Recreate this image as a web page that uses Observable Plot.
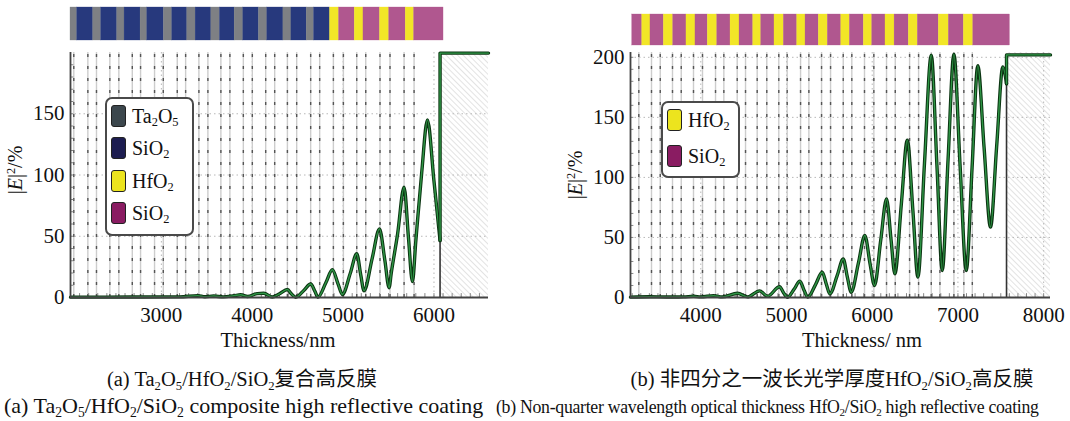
<!DOCTYPE html>
<html><head><meta charset="utf-8">
<script src="https://cdn.jsdelivr.net/npm/d3@7"></script>
<script src="https://cdn.jsdelivr.net/npm/@observablehq/plot@0.6"></script>
<style>
body{margin:0;background:#fff;}
#root{position:relative;width:1070px;height:421px;overflow:hidden;font-family:"Liberation Serif","Noto Sans CJK SC",serif;color:#111;}
.ctr{transform:translate(-50%,-50%);white-space:nowrap;}
sub{font-size:0.62em;vertical-align:-0.28em;line-height:0;}
sup{font-size:0.62em;vertical-align:0.55em;line-height:0;}
.legend{position:absolute;background:#fff;border:2px solid #4a4a4a;border-radius:7px;box-sizing:border-box;font-size:20px;font-family:"Liberation Serif",serif;}
.item{position:absolute;left:4px;display:flex;align-items:center;height:24px;}
.sw{width:15px;height:22px;border:1.5px solid #222;border-radius:3px;margin-right:6px;box-sizing:border-box;}
.ylab{font-size:20px;font-family:"Liberation Serif",serif;transform:translate(-50%,-50%) rotate(-90deg);white-space:nowrap;}
.cap{font-size:20.5px;white-space:nowrap;font-family:"Liberation Serif","Noto Sans CJK SC",serif;}
svg text{font-family:"Liberation Serif",serif;}
</style></head><body>
<svg width="0" height="0" style="position:absolute">
<defs>
<pattern id="hatch" patternUnits="userSpaceOnUse" width="4" height="4" patternTransform="rotate(-45)">
<line x1="0" y1="0" x2="0" y2="4" stroke="#c8c8c8" stroke-width="1"/>
</pattern>
</defs></svg>
<div id="root"></div>
<script>
// ---------- Panel (a): Ta2O5/HfO2/SiO2 composite ----------
const aXDomain = [2000, 6600];
const aYDomain = [0, 200];
const aXTicks = [3000, 4000, 5000, 6000];
const aYTicks = [0, 50, 100, 150];
const aThick = [2000, 2400, 2800, 3200, 3400, 3480, 3577, 3680, 3800, 3872, 3950, 4055, 4127, 4220, 4300, 4387, 4430, 4478, 4570, 4643, 4690, 4724, 4810, 4882, 4945, 4992, 5080, 5150, 5195, 5230, 5320, 5400, 5460, 5506, 5530, 5600, 5671, 5720, 5763, 5800, 5865, 5928, 6000, 6067];
const aField = [0.3, 0.3, 0.4, 0.5, 1.5, 0.6, 1.2, 0.5, 1.5, 2.2, 0.8, 3.2, 3.5, 0.4, 3, 6.5, 3, 0.2, 6, 11, 5, 0.3, 12, 22.6, 11, 2.5, 20, 35.7, 18, 5.5, 32, 56, 30, 8, 20, 52, 90, 48, 13, 46, 102, 145, 95, 46.5];
const aSurface = 6067;
const aOutside = 199.5;
const aLayerEdges = [2036, 2191, 2286, 2433, 2532, 2680, 2771, 2925, 3021, 3175, 3267, 3413, 3512, 3655, 3754, 3902, 4001, 4148, 4247, 4387, 4489, 4643, 4742, 4893, 5003, 5150, 5249, 5406, 5516, 5671, 5781];
const aStripEdges = [2000, 2074, 2250, 2338, 2514, 2595, 2771, 2845, 3028, 3120, 3285, 3377, 3550, 3644, 3806, 3902, 4074, 4166, 4343, 4431, 4599, 4680, 4856, 4955, 5128, 5224, 5406, 5507, 5689, 5781, 6105];
const aStripLayers = ["T","L","T","L","T","L","T","L","T","L","T","L","T","L","T","L","T","L","T","L","T","L","H","S","H","S","H","S","H","S"];

// ---------- Panel (b): non-quarter HfO2/SiO2 ----------
const bXDomain = [3180, 8080];
const bYDomain = [0, 204];
const bXTicks = [4000, 5000, 6000, 7000, 8000];
const bYTicks = [0, 50, 100, 150, 200];
const bThick = [3180, 3400, 3600, 3800, 3915, 4000, 4149, 4250, 4429, 4545, 4686, 4779, 4919, 4965, 5012, 5090, 5156, 5205, 5249, 5340, 5417, 5465, 5506, 5590, 5662, 5710, 5755, 5840, 5914, 5975, 6027, 6100, 6167, 6220, 6264, 6340, 6409, 6475, 6533, 6610, 6689, 6755, 6817, 6885, 6953, 7025, 7097, 7165, 7232, 7305, 7380, 7452, 7524, 7567];
const bField = [0.3, 0.6, 0.4, 0.5, 1, 0.5, 1.5, 0.5, 3.6, 0.5, 5.5, 1, 9, 4, 0.2, 7, 13.6, 6, 0.3, 11, 21, 11, 3, 18, 32, 17, 4.4, 29, 51.7, 28, 10, 48, 82, 48, 19.7, 78, 131, 72, 17, 112, 201.7, 110, 22.5, 115, 202.5, 110, 22.5, 108, 193, 125, 58.6, 126, 192, 178];
const bSurface = 7567;
const bOutside = 202;
const bLayerEdges = [3277, 3425, 3527, 3670, 3772, 3915, 4020, 4172, 4269, 4425, 4522, 4658, 4770, 4910, 5008, 5164, 5261, 5409, 5514, 5662, 5762, 5910, 6019, 6167, 6269, 6436, 6541, 6689, 6790, 6953, 7069, 7168];
const bStripEdges = [3200, 3317, 3413, 3569, 3678, 3833, 3938, 4082, 4192, 4347, 4452, 4612, 4705, 4860, 4969, 5125, 5222, 5377, 5482, 5639, 5739, 5902, 6000, 6155, 6261, 6427, 6532, 6777, 6894, 7069, 7179, 7606];
const bStripLayers = ["S","H","S","H","S","H","S","H","S","H","S","H","S","H","S","H","S","H","S","H","S","H","S","H","S","H","S","H","S","H","S"];

// ---------- materials ----------
const materialKeys = ["T", "L", "H", "S"];
const stripColors = ["#7e8084", "#27397d", "#f2e627", "#b0578f"];

const root = document.getElementById("root");
const serif = "Liberation Serif";

function place(node, left, top) {
  node.style.position = "absolute";
  node.style.left = left + "px";
  node.style.top = top + "px";
  root.appendChild(node);
}

function strip(xDomain, width, mL, mR, mT, mB, edges, layers) {
  const data = layers.map((m, i) => ({x1: edges[i], x2: edges[i + 1], m}));
  return Plot.plot({
    width, height: 50, marginLeft: mL, marginRight: mR, marginTop: mT, marginBottom: mB,
    style: {background: "transparent"},
    x: {domain: xDomain, axis: null},
    y: {domain: [0, 1], axis: null},
    color: {domain: materialKeys, range: stripColors},
    marks: [
      Plot.rect(data, {x1: "x1", x2: "x2", y1: 0, y2: 1, fill: "m", stroke: "m", strokeWidth: 0.3})
    ]
  });
}

function chart(o) {
  const curve = o.thick.map((x, i) => ({x, y: o.field[i]}));
  const last = o.field[o.field.length - 1];
  const step = [{x: o.surface, y: last}, {x: o.surface, y: o.outside}, {x: o.xDomain[1], y: o.outside}];
  const minor = d3.range(Math.ceil(o.xDomain[0] / 100) * 100, o.xDomain[1], 100);
  const minorY = d3.range(0, o.yDomain[1], 10);
  const ink = "#434343";
  return Plot.plot({
    width: o.width, height: 345,
    marginLeft: o.mL, marginRight: o.mR, marginTop: 52, marginBottom: 48,
    style: {background: "transparent", fontFamily: serif, fontSize: "21px", color: "#111"},
    x: {domain: o.xDomain},
    y: {domain: o.yDomain},
    marks: [
      Plot.rect([0], {x1: o.surface, x2: o.xDomain[1], y1: 0, y2: o.yDomain[1], fill: "url(#hatch)"}),
      Plot.ruleX(o.xTicks.filter(d => d < o.xDomain[1]), {stroke: "#b8b8b8", strokeDasharray: "1.5,3", strokeWidth: 1}),
      Plot.ruleY(o.yTicks.filter(d => d > 0), {stroke: "#b8b8b8", strokeDasharray: "1.5,3", strokeWidth: 1}),
      Plot.ruleX(o.edges, {y1: 0, y2: o.yDomain[1], stroke: "#cdcdcd", strokeWidth: 1.4}),
      Plot.ruleX(o.edges, {y1: 0, y2: o.yDomain[1], stroke: "#555", strokeWidth: 1.4, strokeDasharray: "3,9"}),
      Plot.ruleX([o.surface], {y1: 0, y2: last, stroke: "#333", strokeWidth: 1.6}),
      Plot.ruleX(minor, {y1: 0, y2: 3.2, stroke: "#888", strokeWidth: 1}),
      Plot.ruleY(minorY, {x1: o.xDomain[0], x2: o.xDomain[0] + (o.xDomain[1] - o.xDomain[0]) * 0.008, stroke: "#888", strokeWidth: 1}),
      Plot.line(curve, {x: "x", y: "y", curve: "monotone-x", stroke: "#0b3512", strokeWidth: 3.4}),
      Plot.line(curve, {x: "x", y: "y", curve: "monotone-x", stroke: "#2f9646", strokeWidth: 1.4}),
      Plot.line(step, {x: "x", y: "y", stroke: "#0b3512", strokeWidth: 3.4}),
      Plot.line(step, {x: "x", y: "y", stroke: "#2f9646", strokeWidth: 1.4}),
      Plot.ruleY([0], {stroke: ink, strokeWidth: 1.8}),
      Plot.ruleX([o.xDomain[0]], {y1: 0, y2: o.yDomain[1], stroke: ink, strokeWidth: 1.8}),
      Plot.axisX({ticks: o.xTicks, tickSize: 0, tickPadding: 10, label: null, fontSize: 21, fontFamily: serif, fill: "#111", tickFormat: d => String(d)}),
      Plot.axisY({ticks: o.yTicks, tickSize: 0, tickPadding: 6, label: null, fontSize: 21, fontFamily: serif, fill: "#111", tickFormat: d => String(d)})
    ]
  });
}

// strips
place(strip(aXDomain, 500, 70, 12, 7, 10, aStripEdges, aStripLayers), 0, 0);
place(strip(bXDomain, 510, 70, 20, 14, 5, bStripEdges, bStripLayers), 560, 0);

// charts
place(chart({xDomain: aXDomain, yDomain: aYDomain, xTicks: aXTicks, yTicks: aYTicks, thick: aThick, field: aField,
  surface: aSurface, outside: aOutside, edges: aLayerEdges, width: 500, mL: 70, mR: 12}), 0, 0);
place(chart({xDomain: bXDomain, yDomain: bYDomain, xTicks: bXTicks, yTicks: bYTicks, thick: bThick, field: bField,
  surface: bSurface, outside: bOutside, edges: bLayerEdges, width: 510, mL: 70, mR: 20}), 560, 0);

// text and legends
function html(s, cls, left, top, extra) {
  const d = document.createElement("div");
  d.className = cls;
  d.innerHTML = s;
  d.style.position = "absolute";
  d.style.left = left + "px";
  d.style.top = top + "px";
  if (extra) Object.assign(d.style, extra);
  root.appendChild(d);
  return d;
}
html("|<i>E</i>|<sup>2</sup>/%", "ylab", 15, 170);
html("|<i>E</i>|<sup>2</sup>/%", "ylab", 575, 175);
html("Thickness/nm", "cap ctr", 278, 340);
html("Thickness/ nm", "cap ctr", 862, 340);
html("(a) Ta<sub>2</sub>O<sub>5</sub>/HfO<sub>2</sub>/SiO<sub>2</sub>复合高反膜", "cap ctr", 242, 377);
html("(b) 非四分之一波长光学厚度HfO<sub>2</sub>/SiO<sub>2</sub>高反膜", "cap ctr", 832, 377);
html("(a) Ta<sub>2</sub>O<sub>5</sub>/HfO<sub>2</sub>/SiO<sub>2</sub> composite high reflective coating", "cap", 4, 393, {fontSize: "22px"});
html("(b) Non-quarter wavelength optical thickness HfO<sub>2</sub>/SiO<sub>2</sub> high reflective coating", "cap", 496, 397, {fontSize: "17.8px", letterSpacing: "-0.3px"});

const legendA = [["#3c474d", "Ta<sub>2</sub>O<sub>5</sub>"], ["#1d1d50", "SiO<sub>2</sub>"], ["#ece41e", "HfO<sub>2</sub>"], ["#8a1c62", "SiO<sub>2</sub>"]];
const legendB = [["#ece41e", "HfO<sub>2</sub>"], ["#8a1c62", "SiO<sub>2</sub>"]];
function legend(items, left, top, w, h, rowY) {
  const box = html("", "legend", left, top);
  box.style.width = w + "px";
  box.style.height = h + "px";
  items.forEach(([c, t], i) => {
    const it = document.createElement("div");
    it.className = "item";
    it.style.top = (rowY[i] - top - 2 - 12) + "px";
    it.innerHTML = `<div class="sw" style="background:${c}"></div><span>${t}</span>`;
    box.appendChild(it);
  });
}
legend(legendA, 105, 97, 89, 139, [116, 148, 181, 213]);
legend(legendB, 661, 101, 79, 77, [120, 156]);
</script></body></html>
